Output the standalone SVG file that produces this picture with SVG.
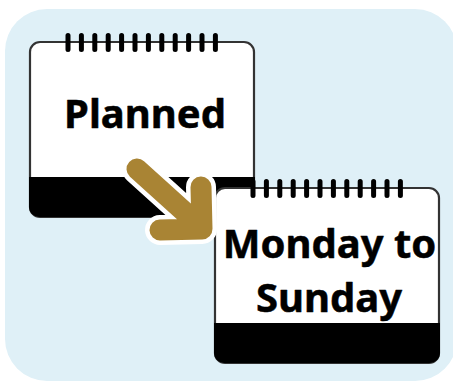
<svg xmlns="http://www.w3.org/2000/svg" width="453" height="382" viewBox="0 0 453 382">
<style>
.card{fill:#fff;stroke:#333;stroke-width:2.2}
.band{fill:#000}
.ring{stroke:#000;stroke-width:5;stroke-linecap:round}
.lbl{font-family:"Noto Sans","Open Sans",sans-serif;font-weight:700;font-size:40px;fill:#000;text-anchor:middle;stroke:#000;stroke-width:.5;stroke-linejoin:round}
</style>
<defs>
<g id="rings"><path class="ring" d="M0 0V14M13.4 0V14M26.8 0V14M40.2 0V14M53.6 0V14M67 0V14M80.4 0V14M93.8 0V14M107.2 0V14M120.6 0V14M134 0V14M147.4 0V14"/></g>
</defs>
<rect x="5" y="9" width="452" height="372" rx="42" fill="#dff0f7"/>
<g id="node-planned">
<rect class="card" x="30" y="42" width="224" height="175" rx="10"/>
<path class="band" d="M29 177H255V207a10 10 0 0 1-10 10H39a10 10 0 0 1-10-10Z"/>
<use href="#rings" x="68" y="35.500"/>
<text class="lbl" x="145" y="128">Planned</text>
</g>
<g id="node-week">
<rect class="card" x="215" y="188" width="224" height="175" rx="10"/>
<path class="band" d="M214 323H440V353a10 10 0 0 1-10 10H224a10 10 0 0 1-10-10Z"/>
<use href="#rings" x="253" y="181.500"/>
<text class="lbl" x="329.500" y="258">Monday to</text>
<text class="lbl" x="329" y="312">Sunday</text>
</g>
<g id="connectors" fill="none" stroke-linecap="round" stroke-linejoin="round">
<path d="M137 169L199 225M201 187L202 229L160 230" stroke="#fff" stroke-width="30"/>
<path d="M137 169L199 225M201 187L202 229L160 230" stroke="#a98434" stroke-width="21"/>
</g>
</svg>
